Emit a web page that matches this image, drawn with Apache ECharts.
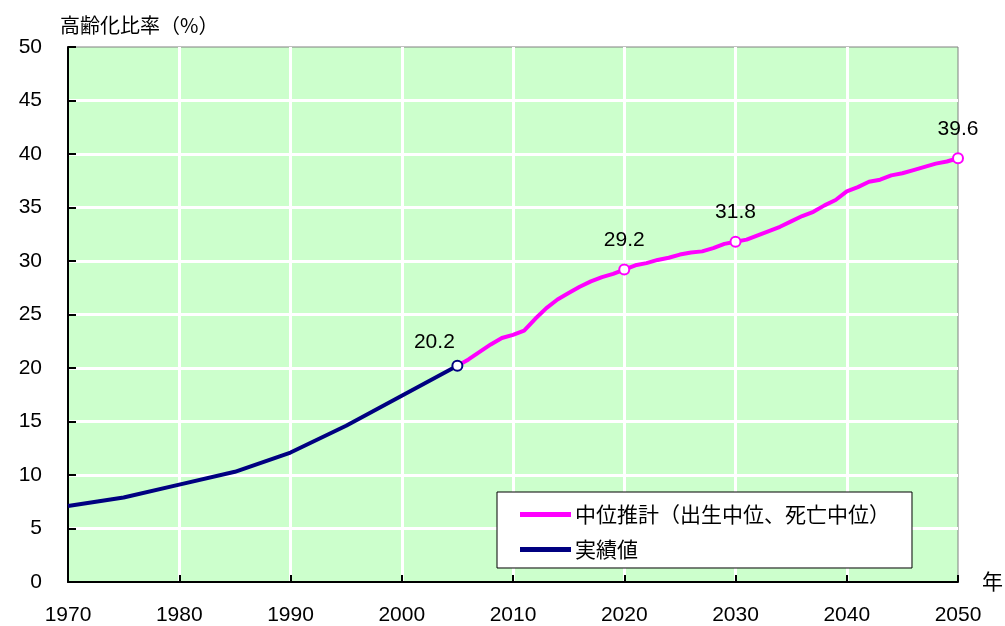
<!DOCTYPE html>
<html>
<head>
<meta charset="utf-8">
<script src="https://cdn.jsdelivr.net/npm/echarts@6/dist/echarts.min.js"></script>
<style>
html, body { margin: 0; padding: 0; background: #fff; }
#chart { width: 1005px; height: 626px; }
</style>
</head>
<body>
<div id="chart"></div>
<script>
// 実績値
var actualYears = [1970, 1975, 1980, 1985, 1990, 1995, 2000, 2005];
var actualValues = [7.1, 7.9, 9.1, 10.3, 12.1, 14.6, 17.4, 20.2];
// 中位推計
var projYears = [2005, 2006, 2007, 2008, 2009, 2010, 2011, 2012, 2013, 2014, 2015,
  2016, 2017, 2018, 2019, 2020, 2021, 2022, 2023, 2024, 2025, 2026, 2027, 2028, 2029, 2030,
  2031, 2032, 2033, 2034, 2035, 2036, 2037, 2038, 2039, 2040, 2041, 2042, 2043, 2044, 2045,
  2046, 2047, 2048, 2049, 2050];
var projValues = [20.2, 20.8, 21.5, 22.2, 22.8, 23.1, 23.5, 24.6, 25.6, 26.4, 27.0,
  27.6, 28.1, 28.5, 28.8, 29.2, 29.6, 29.8, 30.1, 30.3, 30.6, 30.8, 30.9, 31.2, 31.6, 31.8,
  32.0, 32.4, 32.8, 33.2, 33.7, 34.2, 34.6, 35.2, 35.7, 36.5, 36.9, 37.4, 37.6, 38.0, 38.2,
  38.5, 38.8, 39.1, 39.3, 39.6];
// ラベルを付ける年
var labeledYears = [2005, 2020, 2030, 2050];

var seriesNames = ['中位推計（出生中位、死亡中位）', '実績値'];
var xTicks = { min: 1970, max: 2050, interval: 10 };
var yTicks = { min: 0, max: 50, interval: 5 };

var numFont = 'Liberation Sans, Arial, sans-serif';
var cjkFont = '"Noto Sans CJK JP", sans-serif';

function buildData(years, values, skipLabelYear, labelOffset) {
  return years.map(function (y, i) {
    var item = { value: [y, values[i]] };
    if (labeledYears.indexOf(y) >= 0 && y !== skipLabelYear) {
      item.symbol = 'emptyCircle';
      item.label = { show: true };
      if (labelOffset && y === 2005) item.label.offset = labelOffset;
    } else {
      item.symbol = 'none';
    }
    return item;
  });
}

var myChart = echarts.init(document.getElementById('chart'));

var labelStyle = {
  show: false,
  position: 'top',
  distance: 13,
  fontFamily: numFont,
  fontSize: 21,
  color: '#000',
  formatter: function (p) { return p.value[1].toFixed(1); }
};

var option = {
  animation: false,
  backgroundColor: '#fff',
  title: {
    text: '高齢化比率（%）',
    left: 55,
    top: 10,
    textStyle: { fontFamily: cjkFont, fontSize: 20, fontWeight: 'normal', color: '#000' }
  },
  graphic: [{
    type: 'text',
    left: 982,
    top: 571,
    style: { text: '年', font: '21px "Noto Sans CJK JP", sans-serif', fill: '#000' }
  }],
  grid: {
    left: 68,
    right: 47,
    top: 47,
    bottom: 44,
    show: true,
    backgroundColor: '#ccffcc',
    borderColor: '#808080',
    borderWidth: 1
  },
  legend: {
    data: seriesNames,
    orient: 'vertical',
    left: 497,
    top: 492,
    padding: [12, 22, 8, 23],
    itemGap: 14,
    itemWidth: 49,
    itemHeight: 3,
    icon: 'rect',
    backgroundColor: '#fff',
    borderColor: '#000',
    borderWidth: 1,
    textStyle: { fontFamily: cjkFont, fontSize: 21, color: '#000' }
  },
  xAxis: {
    type: 'value',
    min: xTicks.min,
    max: xTicks.max,
    interval: xTicks.interval,
    axisLine: { show: true, onZero: false, lineStyle: { color: '#000', width: 2 } },
    axisTick: { show: true, inside: true, length: 7, lineStyle: { color: '#000', width: 2 } },
    axisLabel: {
      margin: 23, fontFamily: numFont, fontSize: 21, color: '#000',
      formatter: function (v) { return String(v); }
    },
    splitLine: { show: true, showMinLine: false, showMaxLine: false, lineStyle: { color: '#fff', width: 3 } }
  },
  yAxis: {
    type: 'value',
    min: yTicks.min,
    max: yTicks.max,
    interval: yTicks.interval,
    axisLine: { show: true, lineStyle: { color: '#000', width: 2 } },
    axisTick: { show: true, inside: true, length: 8, lineStyle: { color: '#000', width: 2 } },
    axisLabel: { margin: 26, fontFamily: numFont, fontSize: 21, color: '#000' },
    splitLine: { show: true, showMinLine: false, showMaxLine: false, lineStyle: { color: '#fff', width: 3 } }
  },
  series: [{
    name: seriesNames[0],
    type: 'line',
    z: 3,
    data: buildData(projYears, projValues, 2005),
    symbol: 'emptyCircle',
    symbolSize: 10,
    showSymbol: true,
    lineStyle: { color: '#ff00ff', width: 4 },
    itemStyle: { color: '#ff00ff', borderColor: '#ff00ff', borderWidth: 2 },
    label: labelStyle
  }, {
    name: seriesNames[1],
    type: 'line',
    z: 4,
    data: buildData(actualYears, actualValues, null, [-23, 6]),
    symbol: 'emptyCircle',
    symbolSize: 10,
    showSymbol: true,
    lineStyle: { color: '#000080', width: 4 },
    itemStyle: { color: '#000080', borderColor: '#000080', borderWidth: 2 },
    label: labelStyle
  }]
};

myChart.setOption(option);
</script>
</body>
</html>
